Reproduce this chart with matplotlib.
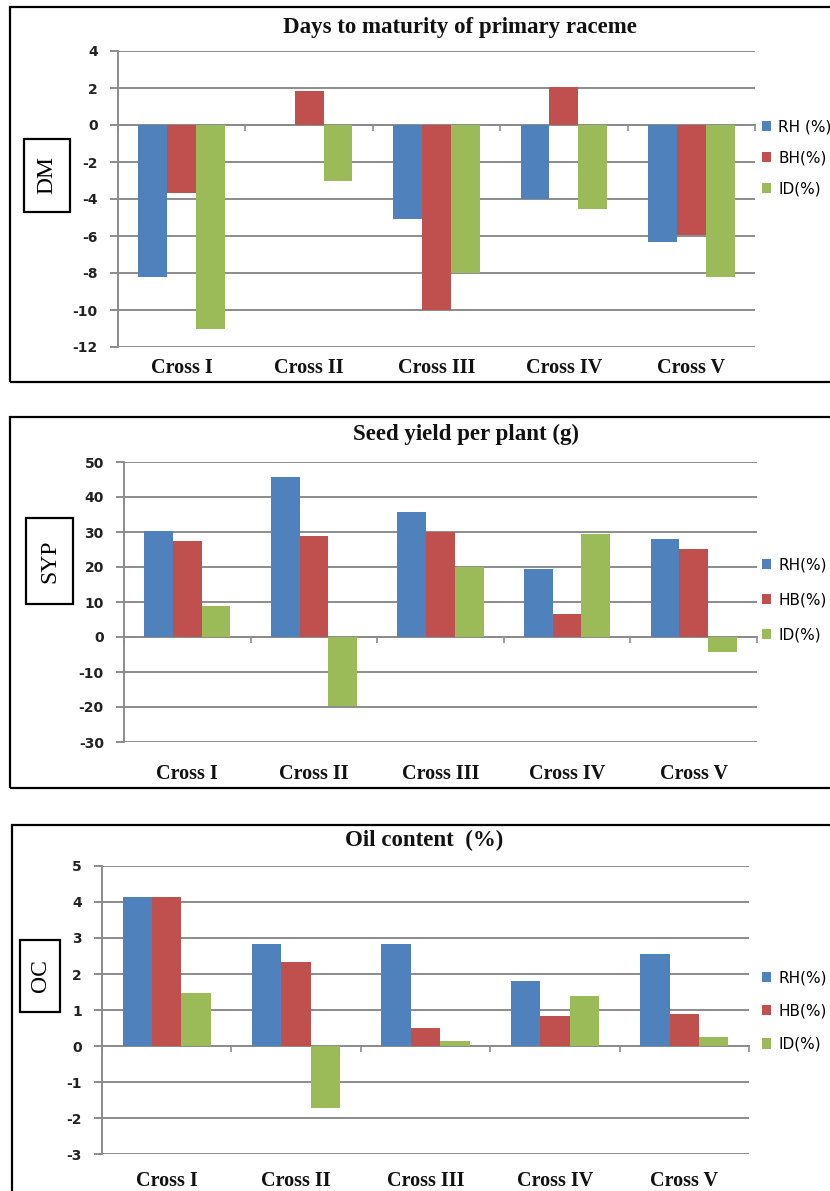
import matplotlib.pyplot as plt
from matplotlib.patches import Rectangle
import numpy as np

crosses = ['Cross I', 'Cross II', 'Cross III', 'Cross IV', 'Cross V']

# Days to maturity of primary raceme
dm_rh = [-8.2, 0, -5.1, -4.0, -6.35]
dm_bh = [-3.65, 1.85, -10.0, 2.05, -5.95]
dm_id = [-11.05, -3.05, -8.0, -4.55, -8.2]
dm_labels = ['RH (%)', 'BH(%)', 'ID(%)']

# Seed yield per plant
syp_rh = [30.4, 45.7, 35.8, 19.4, 28.1]
syp_hb = [27.5, 28.8, 30.0, 6.5, 25.2]
syp_id = [8.9, -19.8, 20.1, 29.3, -4.4]
syp_labels = ['RH(%)', 'HB(%)', 'ID(%)']

# Oil content
oc_rh = [4.13, 2.83, 2.83, 1.80, 2.55]
oc_hb = [4.13, 2.32, 0.49, 0.83, 0.89]
oc_id = [1.46, -1.72, 0.14, 1.40, 0.26]
oc_labels = ['RH(%)', 'HB(%)', 'ID(%)']

colors = ['#4F81BD', '#C0504D', '#9BBB59']
W, H = 830, 1191
SERIF = 'Liberation Serif'
SANS = 'DejaVu Sans'

fig = plt.figure(figsize=(W / 100, H / 100), dpi=100)


def fx(x):
    return x / W


def fy(y):
    return 1 - y / H


def panel(frame, plot, ylim, ystep, title, title_xy, series, labels,
          tag, tag_box, leg_y, leg_space, cat_pad):
    # outer black frame
    fx0, fy0, fx1, fy1 = frame
    fig.add_artist(Rectangle((fx(fx0), fy(fy1)), fx(fx1 - fx0), (fy1 - fy0) / H,
                             transform=fig.transFigure, fill=False,
                             ec='black', lw=1.6))
    x0, yt, x1, yb = plot
    ax = fig.add_axes([fx(x0), fy(yb), fx(x1 - x0), (yb - yt) / H])
    x = np.arange(len(crosses))
    w = 0.227
    for i, (vals, lab) in enumerate(zip(series, labels)):
        ax.bar(x + (i - 1) * w, vals, w, color=colors[i], label=lab, zorder=3)
    ax.set_xlim(-0.5, len(crosses) - 0.5)
    ax.set_ylim(*ylim)
    ax.set_yticks(np.arange(ylim[0], ylim[1] + ystep / 2, ystep))
    ax.yaxis.grid(True, color='#8c8c8c', lw=1.4, zorder=0)
    ax.set_axisbelow(True)
    for s in ['top', 'right']:
        ax.spines[s].set_visible(False)
    ax.spines['left'].set_color('#8c8c8c')
    ax.spines['left'].set_linewidth(1.4)
    ax.spines['bottom'].set_position(('data', 0))
    ax.spines['bottom'].set_color('#8c8c8c')
    ax.spines['bottom'].set_linewidth(1.4)
    ax.set_xticks(x)
    ax.set_xticklabels([])
    ax.tick_params(axis='x', which='major', length=0)
    ax.set_xticks(np.arange(-0.5, len(crosses)), minor=True)
    ax.tick_params(axis='x', which='minor', length=4, width=1.2, color='#8c8c8c')
    ax.tick_params(axis='y', length=5.5, width=1.4, color='#8c8c8c', pad=9)
    ax.set_yticklabels([f'{int(v)}' for v in ax.get_yticks()],
                       family=SANS, weight='bold', size=10, color='#222222')
    sec = ax.secondary_xaxis('bottom')
    sec.set_xticks(x)
    sec.set_xticklabels(crosses, family=SERIF, weight='bold', size=14.5,
                        color='#111111')
    sec.tick_params(length=0, pad=cat_pad)
    sec.spines['bottom'].set_visible(False)
    # title
    fig.text(fx(title_xy[0]), fy(title_xy[1]), title, ha='center', va='center',
             family=SERIF, weight='bold', size=16.5, color='#111111')
    # boxed trait label
    bx0, by0, bx1, by1 = tag_box
    fig.add_artist(Rectangle((fx(bx0), fy(by1)), fx(bx1 - bx0), (by1 - by0) / H,
                             transform=fig.transFigure, fill=False,
                             ec='black', lw=1.6))
    fig.text(fx((bx0 + bx1) / 2), fy((by0 + by1) / 2), tag, rotation=90,
             ha='center', va='center', family=SERIF, size=17)
    ax.legend(loc='center left', bbox_to_anchor=(fx(762), fy(leg_y)),
              bbox_transform=fig.transFigure, frameon=False, borderpad=0,
              borderaxespad=0, handlelength=0.6, handleheight=0.65,
              handletextpad=0.45, labelspacing=leg_space,
              prop={'family': SANS, 'size': 11})
    return ax


panel((10, 7, 845, 382), (118, 51, 755, 347), (-12, 4), 2,
      'Days to maturity of primary raceme', (460, 27),
      [dm_rh, dm_bh, dm_id], dm_labels, 'DM', (24, 139, 70, 212), 158, 1.05, 8)

panel((10, 417, 845, 788), (124, 462, 757, 742), (-30, 50), 10,
      'Seed yield per plant (g)', (466, 434),
      [syp_rh, syp_hb, syp_id], syp_labels, 'SYP', (26, 518, 73, 604), 600, 1.3, 16)

panel((12, 825, 845, 1200), (102, 866, 749, 1154), (-3, 5), 1,
      'Oil content  (%)', (424, 840),
      [oc_rh, oc_hb, oc_id], oc_labels, 'OC', (20, 940, 60, 1012), 1011, 1.2, 12)

fig.savefig('out.png', dpi=100)
